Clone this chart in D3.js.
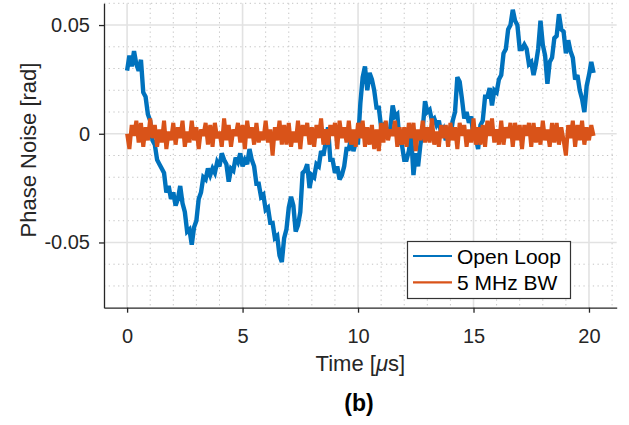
<!DOCTYPE html>
<html><head><meta charset="utf-8">
<script src="https://cdn.jsdelivr.net/npm/d3@7"></script>
<style>body{margin:0;background:#fff}svg{display:block}</style>
</head><body>
<svg id="c" width="629" height="425"></svg>
<script>
// ---------- data ----------
const seriesNames = ["Open Loop", "5 MHz BW"];
const sampleStepUs = 0.1;           // sample spacing of the traces (µs)
// Open-loop phase noise, milliradians, one value per 0.1 µs from t = 0
const openLoopMrad = [
29,36,31,38,32,29,34,19,17,9,
6,-3,-5,-12,-14,-16,-18,-27,-24,-30,
-27,-33,-30,-24,-32,-36,-45,-44,-51,-43,
-40,-30,-27,-20,-21,-16,-19,-16,-18,-13,
-15,-9,-12,-14,-22,-16,-17,-11,-13,-9,
-15,-12,-14,-7,-12,-15,-23,-23,-29,-28,
-35,-34,-41,-41,-48,-47,-56,-59,-48,-44,
-34,-29,-33,-45,-42,-36,-18,-17,-14,-25,
-19,-20,-14,-15,-8,-10,-4,3,-12,-12,
-18,-15,-21,-19,-15,-7,-7,-2,-8,-4,
-4,14,26,31,20,28,25,20,12,12,
3,4,-2,0,3,13,8,9,-4,-5,
-12,-12,-8,-1,-19,-9,-15,-5,2,15,
10,11,6,7,4,6,0,2,-3,1,
-2,6,10,26,24,16,7,10,5,8,
-2,-2,-7,4,6,17,17,21,13,20,
19,25,27,37,39,48,50,57,52,50,
39,39,41,39,32,33,27,32,39,52,
41,36,23,33,35,44,45,55,48,47,
37,43,38,35,25,27,20,16,10,22,
27,33,28];
// Closed loop (5 MHz BW) phase noise, milliradians
const bw5MHzMrad = [
0,-7,4,-1,6,-4,5,-6,3,-3,
7,-2,4,-6,2,-4,6,-7,1,-3,
5,-5,3,-2,6,-6,1,-4,6,-3,
3,-7,2,-1,5,-5,4,-6,5,-2,
1,-6,7,-3,4,-6,2,-1,5,-4,
4,-7,6,-2,3,-5,5,-4,1,-3,
6,-4,2,-10,3,-3,6,-5,4,-5,
5,-6,1,-4,6,-7,4,-1,5,-5,
3,-6,4,-2,7,-5,2,-5,4,-1,
5,-7,6,-2,3,-4,6,-5,2,-6,
5,-2,6,-6,3,-5,4,-7,2,-8,
5,-4,6,-3,2,-1,6,-6,3,-5,
3,-6,5,-2,5,-8,2,-3,6,-4,
3,-4,7,-5,1,-6,4,-2,4,-6,
5,-3,3,-7,5,-1,4,-6,2,-4,
7,-5,3,-5,4,-6,6,-1,7,-4,
2,-5,6,-5,3,-2,5,-6,5,-3,
4,-7,4,-1,5,-6,5,-4,3,-5,
6,-3,2,-6,5,-4,5,-5,3,-3,
-10,4,-2,6,-6,4,-3,6,-5,3,
-3,4,-1];
const xTicks = [0, 5, 10, 15, 20];
const xMinorTicks = [1,2,3,4,6,7,8,9,11,12,13,14,16,17,18,19,21];
const yTicks = [-0.05, 0, 0.05];
const yTickLabels = ["-0.05", "0", "0.05"];
const yMinorTicks = [-0.07,-0.06,-0.04,-0.03,-0.02,-0.01,0.01,0.02,0.03,0.04,0.06];
const xLabel = "Time [", xLabelMu = "\u03BC", xLabelEnd = "s]";
const yLabel = "Phase Noise [rad]";
const caption = "(b)";

// ---------- layout ----------
const colors = ["#0072BD", "#D95319"];
const traceWidths = [4.4, 4];
const font = "'Liberation Sans', Arial, Helvetica, sans-serif";
const ink = "#262626";
const L = 104, R = 616.7, T = 3.3, B = 307.7;
const x = d3.scaleLinear().domain([-1, 21.2]).range([L, R]);
const y = d3.scaleLinear().domain([-0.08, 0.06]).range([B, T]);
const svg = d3.select("#c");

// grid
const g = svg.append("g");
g.selectAll(".vmin").data(xMinorTicks).join("line")
  .attr("x1", d => x(d)).attr("x2", d => x(d)).attr("y1", T).attr("y2", B)
  .attr("stroke", "#c4c4c4").attr("stroke-width", 1).attr("stroke-dasharray", "1.3,3.4");
g.selectAll(".hmin").data(yMinorTicks).join("line")
  .attr("y1", d => y(d)).attr("y2", d => y(d)).attr("x1", L).attr("x2", R)
  .attr("stroke", "#c4c4c4").attr("stroke-width", 1).attr("stroke-dasharray", "1.3,3.4");
g.selectAll(".vmaj").data(xTicks).join("line")
  .attr("x1", d => x(d)).attr("x2", d => x(d)).attr("y1", T).attr("y2", B)
  .attr("stroke", "#e2e2e2").attr("stroke-width", 1.6);
g.selectAll(".hmaj").data(yTicks).join("line")
  .attr("y1", d => y(d)).attr("y2", d => y(d)).attr("x1", L).attr("x2", R)
  .attr("stroke", "#e2e2e2").attr("stroke-width", 1.6);

// traces
const line = d3.line().x((d, i) => x(i * sampleStepUs)).y(d => y(d / 1000));
[openLoopMrad, bw5MHzMrad].forEach((s, k) => {
  svg.append("path").datum(s).attr("d", line)
    .attr("fill", "none").attr("stroke", colors[k]).attr("stroke-width", traceWidths[k])
    .attr("stroke-linejoin", "miter").attr("stroke-miterlimit", 3);
});

// axes
const xa = svg.append("g").attr("transform", `translate(0,${B})`)
  .call(d3.axisBottom(x).tickValues(xTicks).tickSize(5).tickSizeOuter(0).tickPadding(16).tickFormat(d3.format("d")));
const ya = svg.append("g").attr("transform", `translate(${L},0)`)
  .call(d3.axisLeft(y).tickValues(yTicks).tickSize(5).tickSizeOuter(0).tickPadding(9)
    .tickFormat((d, i) => yTickLabels[i]));
[xa, ya].forEach(a => {
  a.select(".domain").attr("stroke", ink).attr("stroke-width", 1.3);
  a.selectAll(".tick line").attr("stroke", ink).attr("stroke-width", 1.3);
  a.selectAll("text").attr("fill", ink).style("font-family", font).style("font-size", "20px");
});

// labels
const xl = svg.append("text").attr("x", (L + R) / 2).attr("y", 371)
  .attr("text-anchor", "middle").attr("fill", ink)
  .style("font-family", font).style("font-size", "22px");
xl.append("tspan").text(xLabel);
xl.append("tspan").attr("font-style", "italic").text(xLabelMu);
xl.append("tspan").text(xLabelEnd);
svg.append("text").attr("transform", "translate(36,150) rotate(-90)")
  .attr("text-anchor", "middle").attr("fill", ink)
  .style("font-family", font).style("font-size", "22px").text(yLabel);
svg.append("text").attr("x", 359).attr("y", 411).attr("text-anchor", "middle")
  .attr("fill", "#000").style("font-family", font).style("font-size", "23px")
  .style("font-weight", "bold").text(caption);

// legend
const lg = svg.append("g");
lg.append("rect").attr("x", 407.5).attr("y", 241.5).attr("width", 163).attr("height", 57)
  .attr("fill", "#fff").attr("stroke", "#333").attr("stroke-width", 1.2);
seriesNames.forEach((n, k) => {
  const yy = 256 + k * 26.3;
  lg.append("line").attr("x1", 413).attr("x2", 452).attr("y1", yy).attr("y2", yy)
    .attr("stroke", colors[k]).attr("stroke-width", 2.2);
  lg.append("text").attr("x", 457).attr("y", yy + 8).attr("fill", "#000")
    .style("font-family", font).style("font-size", "21px").text(n);
});
</script>
</body></html>
